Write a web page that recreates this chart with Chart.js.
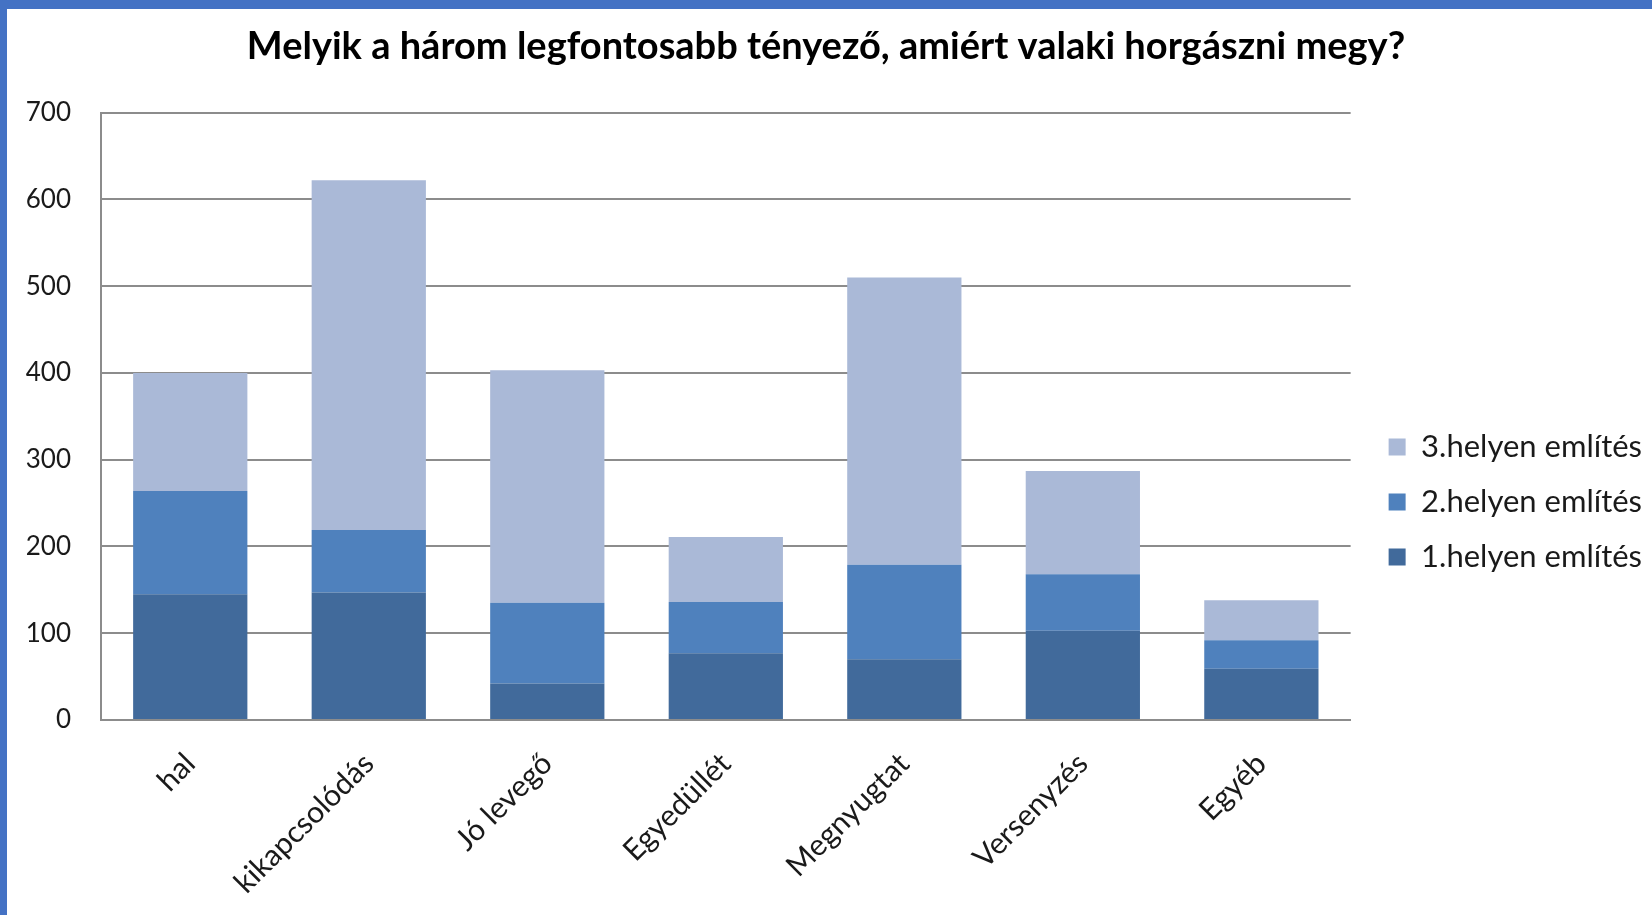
<!DOCTYPE html>
<html>
<head>
<meta charset="utf-8">
<script src="https://cdn.jsdelivr.net/npm/chart.js@4"></script>
<style>
  html, body { margin: 0; padding: 0; background: #fff; }
  #wrap { position: relative; width: 1652px; height: 915px; overflow: hidden; }
  canvas { position: absolute; left: 0; top: 0; }
  .bt { position: absolute; left: 0; top: 0; width: 1652px; height: 9px; background: #4472C4; }
  .bl { position: absolute; left: 0; top: 0; width: 7px; height: 915px; background: #4472C4; }
</style>
</head>
<body>
<div id="wrap">
  <canvas id="c" width="1652" height="915"></canvas>
  <div class="bt"></div>
  <div class="bl"></div>
</div>
<script>
const categories = ["hal", "kikapcsolódás", "Jó levegő", "Egyedüllét", "Megnyugtat", "Versenyzés", "Egyéb"];
const first  = [145, 147, 42, 77, 70, 103, 59];
const second = [119, 72, 93, 59, 109, 65, 33];
const third  = [136, 403, 268, 75, 331, 119, 46];
const seriesNames = ["1.helyen említés", "2.helyen említés", "3.helyen említés"];
const titleText = "Melyik a három legfontosabb tényező, amiért valaki horgászni megy?";
const yTicks = [0, 100, 200, 300, 400, 500, 600, 700];

const FONT = "Lato, 'Open Sans', sans-serif";

new Chart(document.getElementById('c'), {
  type: 'bar',
  data: {
    labels: categories,
    datasets: [
      { label: seriesNames[0], data: first,  backgroundColor: '#416A9B', borderWidth: 0 },
      { label: seriesNames[1], data: second, backgroundColor: '#4F81BD', borderWidth: 0 },
      { label: seriesNames[2], data: third,  backgroundColor: '#AAB9D7', borderWidth: 0 }
    ]
  },
  options: {
    responsive: false,
    animation: false,
    layout: { padding: { left: 0, right: 0, top: 0, bottom: 0 } },
    datasets: { bar: { barPercentage: 0.64, categoryPercentage: 1.0 } },
    plugins: {
      tooltip: { enabled: false },
      title: {
        display: true,
        text: titleText,
        color: '#000',
        font: { family: FONT, size: 38, weight: 'bold' },
        padding: { top: 24, bottom: 43 }
      },
      legend: {
        position: 'right',
        reverse: true,
        maxWidth: 400,
        title: { display: true, text: ' ', font: { size: 10 }, padding: { top: 77, bottom: 0 } },
        labels: {
          boxWidth: 17,
          boxHeight: 17,
          padding: 24,
          color: '#1a1a1a',
          font: { family: FONT, size: 31 }
        }
      }
    },
    scales: {
      x: {
        stacked: true,
        grid: { display: false, drawTicks: false },
        border: { display: true, color: '#8c8c8c', width: 2 },
        ticks: {
          color: '#1a1a1a',
          font: { family: FONT, size: 30 },
          minRotation: 45,
          maxRotation: 45,
          padding: 26,
          autoSkip: false
        },
        afterFit: (s) => { s.height = 195; }
      },
      y: {
        stacked: true,
        min: 0,
        max: 700,
        afterBuildTicks: (s) => { s.ticks = yTicks.map(v => ({ value: v })); },
        grid: { color: '#8c8c8c', lineWidth: 2, drawTicks: false },
        border: { display: true, color: '#8c8c8c', width: 2 },
        ticks: {
          color: '#1a1a1a',
          font: { family: FONT, size: 26 },
          padding: 30
        },
        afterFit: (s) => { s.width = 101; }
      },
      gap: {
        type: 'linear',
        position: 'right',
        display: true,
        grid: { display: false, drawTicks: false },
        border: { display: false },
        ticks: { display: false },
        afterFit: (s) => { s.width = 14; }
      }
    }
  }
});
</script>
</body>
</html>
